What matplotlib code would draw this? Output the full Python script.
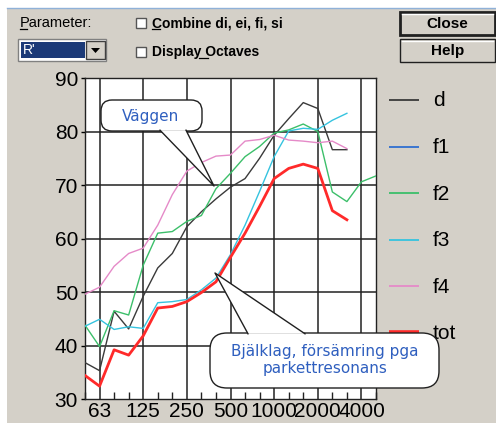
import numpy as np
import matplotlib
matplotlib.use("Agg")
import matplotlib.pyplot as plt
from matplotlib.patches import Rectangle, FancyBboxPatch, Polygon

# third-octave band centre frequencies (Hz)
freqs = [50, 63, 80, 100, 125, 160, 200, 250, 315, 400, 500, 630, 800,
         1000, 1250, 1600, 2000, 2500, 3150, 4000, 5000]
tick_freqs = [63, 125, 250, 500, 1000, 2000, 4000]

# reduction index R' per band (dB)
d = [36.8, 35.3, 46.4, 43.1, 49.2, 54.5, 57.2, 62.2, 65.0, 67.4, 69.6,
     71.2, 75.0, 79.3, 82.4, 85.4, 84.3, 76.6, 76.6]
f1 = []
f2 = [43.8, 39.8, 46.5, 45.7, 55.0, 61.0, 61.3, 63.2, 64.3, 69.3, 72.2,
      75.3, 77.2, 79.7, 80.3, 81.4, 80.0, 68.7, 66.9, 70.6, 71.7]
f3 = [43.6, 44.9, 43.0, 43.5, 43.2, 48.0, 48.2, 48.6, 50.4, 52.6, 57.0,
      62.5, 68.8, 75.3, 80.1, 80.6, 80.4, 82.1, 83.4]
f4 = [49.6, 50.9, 54.8, 57.2, 58.2, 62.5, 68.2, 72.6, 74.2, 75.4, 75.6,
      78.2, 78.5, 79.3, 78.4, 78.2, 77.9, 78.2, 76.8]
tot = [34.4, 32.4, 39.2, 38.2, 41.8, 47.0, 47.3, 48.2, 49.9, 51.9, 56.5,
       61.0, 66.0, 71.2, 73.1, 73.9, 73.1, 65.2, 63.5]

series_names = ["d", "f1", "f2", "f3", "f4", "tot"]
series_data = [d, f1, f2, f3, f4, tot]
series_colors = ["#3a3a3a", "#2f6fd0", "#3cbf6a", "#35c3df", "#e58ac8", "#ff2a2a"]
series_widths = [1.0, 1.0, 1.0, 1.0, 1.0, 2.0]

W, H = 496, 423
BG = "#d4d0c8"
FONT = "Liberation Sans"

fig = plt.figure(figsize=(W / 100, H / 100), dpi=100, facecolor=BG)


def fx(px):
    return px / W


def fy(py):
    return 1 - py / H


# ---- plot area ----
L, R, T, B = 85, 376, 78, 399
ax = fig.add_axes([fx(L), fy(B), (R - L) / W, (B - T) / H], facecolor="white")
x_idx = np.arange(len(freqs))
for name, vals, col, lw in zip(series_names, series_data, series_colors, series_widths):
    ax.plot(x_idx[:len(vals)], vals, color=col, lw=lw, zorder=3)

ax.set_xlim(0, len(freqs) - 1)
ax.set_ylim(30, 90)
ax.set_yticks([30, 40, 50, 60, 70, 80, 90])
ax.set_yticklabels(["30", "40", "50", "60", "70", "80", "90"],
                   fontsize=15, family=FONT)
major_x = [freqs.index(f) for f in tick_freqs]
ax.set_xticks(major_x)
ax.set_xticklabels([str(f) for f in tick_freqs], fontsize=15, family=FONT)
ax.set_xticks(x_idx, minor=True)
ax.tick_params(axis="y", length=3, width=1, color="black", pad=2)
ax.tick_params(axis="x", which="major", length=0, pad=2)
ax.tick_params(axis="x", which="minor", direction="in", length=5, width=1,
               color="#222222")
for yv in [40, 50, 60, 70, 80]:
    ax.axhline(yv, color="#222222", lw=1.1, zorder=1)
for xv in major_x:
    ax.axvline(xv, color="#222222", lw=1.1, zorder=1)
for sp in ax.spines.values():
    sp.set_color("#222222")
    sp.set_linewidth(1.0)

# ---- dialog overlay in pixel coordinates ----
ov = fig.add_axes([0, 0, 1, 1], zorder=10)
ov.set_xlim(0, W)
ov.set_ylim(H, 0)
ov.axis("off")
ov.patch.set_visible(False)

# window frame
ov.add_patch(Rectangle((0, 0), W, 8, facecolor="white", edgecolor="none"))
ov.add_patch(Rectangle((0, 0), 7, H, facecolor="white", edgecolor="none"))
ov.plot([7, W], [8.5, 8.5], color="#8fb1d8", lw=1)

# legend
leg_y = [100, 146.7, 193.3, 240, 286.5, 332.5]
for name, col, lw, yy in zip(series_names, series_colors, series_widths, leg_y):
    ov.plot([389, 419], [yy, yy], color=col, lw=2.6 if name == "tot" else 1.3,
            solid_capstyle="butt")
    ov.text(433, yy + 1, name, fontsize=15, family=FONT, va="center", ha="left")

# "Parameter:" label
ov.text(20, 23, "Parameter:", fontsize=10.5, family=FONT, va="center", ha="left")
ov.plot([20, 27], [29.5, 29.5], color="black", lw=0.9)

# combo box
ov.add_patch(Rectangle((18, 39), 88, 22, facecolor="white", edgecolor="#808080", lw=1))
ov.add_patch(Rectangle((21, 42), 64, 16, facecolor="#1c3a78", edgecolor="none"))
ov.text(23, 50, "R'", fontsize=10, family=FONT, color="white", va="center", ha="left")
ov.add_patch(Rectangle((86, 41), 19, 18, facecolor=BG, edgecolor="#404040", lw=1))
ov.add_patch(Polygon([[91, 48], [100, 48], [95.5, 53]], closed=True,
                     facecolor="black", edgecolor="none"))

# check boxes
for cy, label, ux in [(23, "Combine di, ei, fi, si", (152, 160)),
                      (52, "Display Octaves", (199, 208))]:
    ov.add_patch(Rectangle((136, cy - 5), 10, 10, facecolor="white",
                           edgecolor="#555555", lw=1))
    ov.text(152, cy, label, fontsize=10, family=FONT, weight="bold",
            va="center", ha="left")
    ov.plot(list(ux), [cy + 6.5, cy + 6.5], color="black", lw=0.9)

# buttons
for by, label, edge_w in [(12, "Close", 2.0), (39, "Help", 1.0)]:
    ov.add_patch(Rectangle((400, by), 95, 23, facecolor=BG, edgecolor="#202020", lw=edge_w))
    ov.plot([402, 493], [by + 2, by + 2], color="white", lw=1)
    ov.text(447.5, by + 12, label, fontsize=11, family=FONT, weight="bold",
            va="center", ha="center")


def callout(box, base, tip, text, tcenter, r):
    x0, y0, x1, y1 = box
    ov.add_patch(FancyBboxPatch((x0, y0), (x1 - x0), (y1 - y0),
                                boxstyle=f"round,pad=0,rounding_size={r}",
                                facecolor="white", edgecolor="#202020", lw=1,
                                zorder=5))
    (bx0, by0), (bx1, by1) = base
    ov.add_patch(Polygon([[bx0, by0], [bx1, by1], tip], closed=True,
                         facecolor="white", edgecolor="none", zorder=6))
    ov.plot([bx0, tip[0], bx1], [by0, tip[1], by1], color="#202020", lw=1, zorder=7)
    ov.text(tcenter[0], tcenter[1], text, fontsize=11, family="DejaVu Sans",
            color="#2f5fbf", ha="center", va="center", linespacing=1.15, zorder=8)


callout((101, 100, 202, 131), ((160, 130.2), (186, 130.2)), (214, 186),
        "Väggen", (151, 116), 11)
callout((210, 333, 439, 388), ((248, 333.8), (305, 333.8)), (215, 273),
        "Bjälklag, försämring pga\nparkettresonans", (325, 360), 17)

fig.savefig("out.png", dpi=100, facecolor=BG)
